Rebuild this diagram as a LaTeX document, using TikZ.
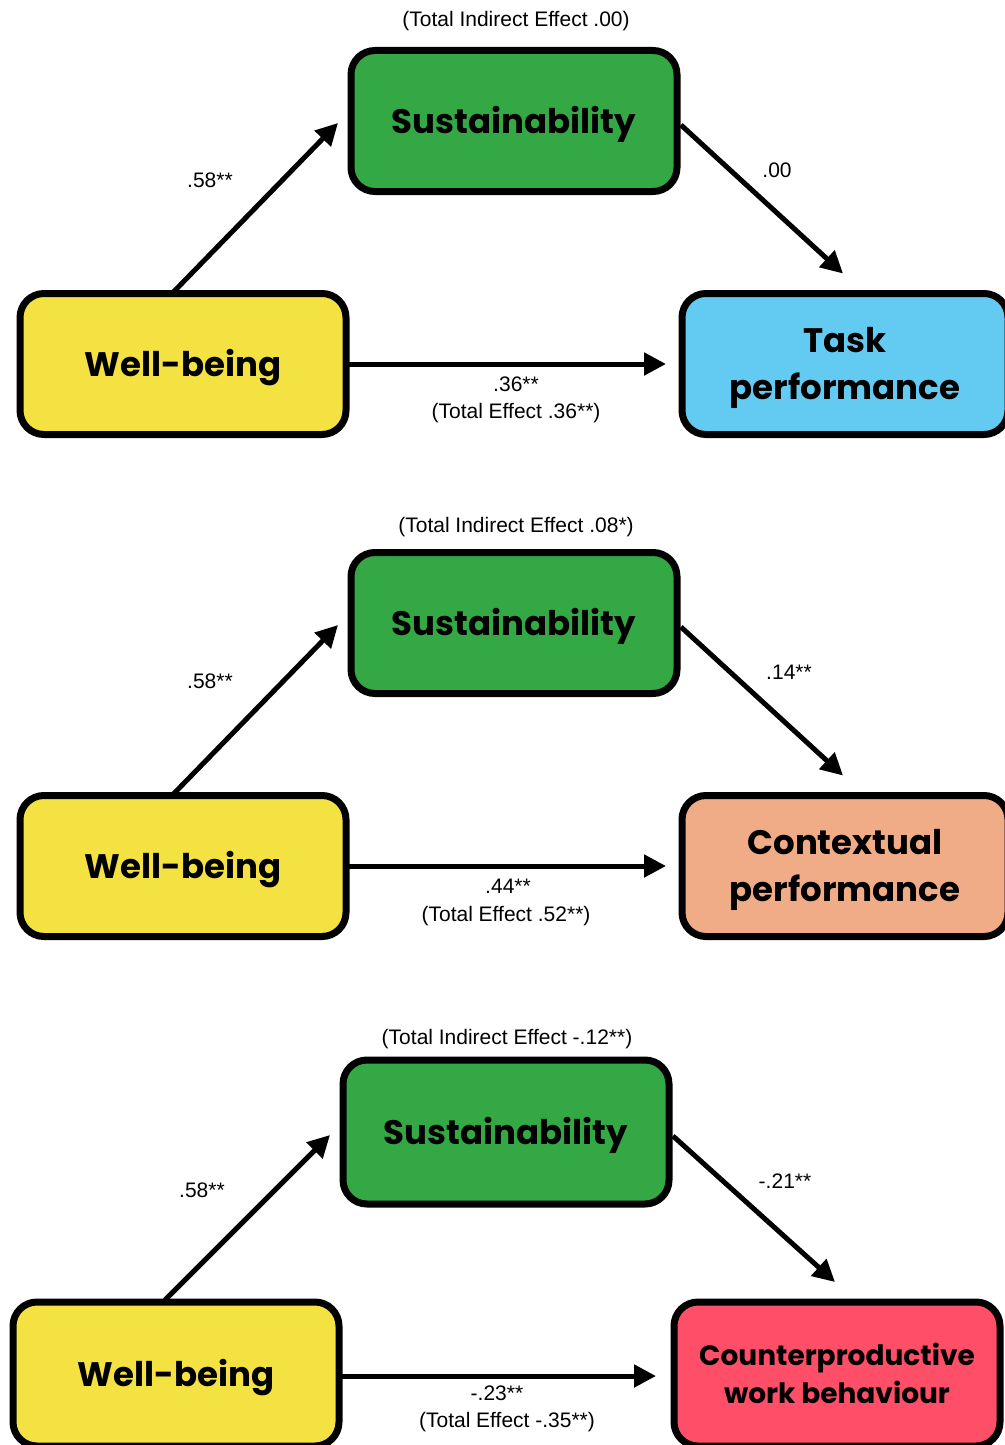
\documentclass[tikz,border=0pt]{standalone}
\usepackage{fontspec}
\setmainfont{Liberation Sans}
\newfontfamily\titlefont{Poppins}
\usetikzlibrary{arrows.meta,calc}
\definecolor{wbyellow}{RGB}{244,226,66}
\definecolor{susgreen}{RGB}{51,168,69}
\definecolor{taskblue}{RGB}{99,203,241}
\definecolor{ctxpeach}{RGB}{240,172,134}
\definecolor{cwbred}{RGB}{254,78,104}
\begin{document}
\begin{tikzpicture}[x=1pt,y=-1pt,
  box/.style={draw=black,line width=7pt,rounded corners=24pt,minimum width=326pt,minimum height=141pt,
    inner sep=0pt,outer sep=0pt,align=center,text depth=2pt,font=\titlefont\bfseries\fontsize{34}{47}\selectfont},
  smallbox/.style={font=\titlefont\bfseries\fontsize{28}{38}\selectfont},
  conn/.style={line width=5pt,-{Triangle[length=22pt,width=22pt]}},
  lbl/.style={font=\fontsize{21}{24}\selectfont,inner sep=0pt}]
\useasboundingbox (0,0) rectangle (1004,1445);
% ---------- panel 1
\node[box,fill=wbyellow] (wb1) at (183,364) {Well-being};
\node[box,fill=susgreen] (sus1) at (514,121) {Sustainability};
\node[box,fill=taskblue] (tp) at (845,364) {Task\\performance};
\draw[conn] ($(wb1.north)+(-11,0)$) -- ($(sus1.west)+(-13,2)$);
\draw[conn] ($(sus1.east)+(4,4)$) -- ($(tp.north)+(-2,-20)$);
\draw[conn] (wb1.east) -- ($(tp.west)+(-16,0)$);
\node[lbl] (cap1) at (516,21) {(Total Indirect Effect .00)};
\node[lbl] (a1) at (210,180) {.58**};
\node[lbl] (b1) at (777,170) {.00};
\node[lbl] (c1) at (516,384) {.36**};
\node[lbl] (t1) at (516,413) {(Total Effect .36**)};
% ---------- panel 2
\node[box,fill=wbyellow] (wb2) at (183,866) {Well-being};
\node[box,fill=susgreen] (sus2) at (514,623) {Sustainability};
\node[box,fill=ctxpeach] (cp2) at (845,866) {Contextual\\performance};
\draw[conn] ($(wb2.north)+(-11,0)$) -- ($(sus2.west)+(-13,2)$);
\draw[conn] ($(sus2.east)+(4,4)$) -- ($(cp2.north)+(-2,-20)$);
\draw[conn] (wb2.east) -- ($(cp2.west)+(-16,0)$);
\node[lbl] (cap2) at (516,527) {(Total Indirect Effect .08*)};
\node[lbl] (a2) at (210,681) {.58**};
\node[lbl] (b2) at (789,672) {.14**};
\node[lbl] (c2) at (508,886) {.44**};
\node[lbl] (t2) at (506,916) {(Total Effect .52**)};
% ---------- panel 3
\node[box,fill=wbyellow,minimum height=144pt] (wb3) at (176,1374) {Well-being};
\node[box,fill=susgreen,minimum height=144pt] (sus3) at (506,1132) {Sustainability};
\node[box,smallbox,fill=cwbred,minimum height=144pt] (cw3) at (837,1374) {Counterproductive\\work behaviour};
\draw[conn] ($(wb3.north)+(-11,-2)$) -- ($(sus3.west)+(-13,3)$);
\draw[conn] ($(sus3.east)+(4,4)$) -- ($(cw3.north)+(-2,-20)$);
\draw[conn] ($(wb3.east)+(0,2)$) -- ($(cw3.west)+(-18,2)$);
\node[lbl] (cap3) at (507,1039) {(Total Indirect Effect -.12**)};
\node[lbl] (a3) at (202,1190) {.58**};
\node[lbl] (b3) at (785,1181) {-.21**};
\node[lbl] (c3) at (497,1393) {-.23**};
\node[lbl] (t3) at (507,1422) {(Total Effect -.35**)};
\end{tikzpicture}
\end{document}
